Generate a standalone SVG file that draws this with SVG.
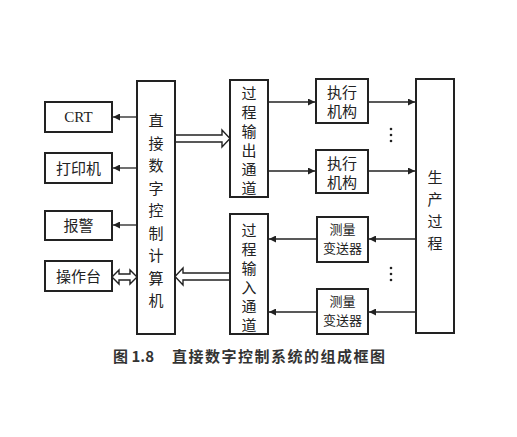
<svg xmlns="http://www.w3.org/2000/svg" width="517" height="437" viewBox="0 0 517 437">
<style>
.box{fill:#fff;stroke:#222;stroke-width:2}
.t{font-family:"Noto Sans CJK SC","Noto Sans",sans-serif;font-size:15px;fill:#222;text-anchor:middle}
.s{font-size:13px}
.cap{font-family:"Noto Sans CJK SC","Noto Sans",sans-serif;font-size:15px;font-weight:bold;fill:#333}
.ln{stroke:#222;stroke-width:1.3;fill:none}
.hol{fill:#fff;stroke:#222;stroke-width:1.4;stroke-linejoin:miter}
.dot{fill:#222}
</style>
<defs>
<marker id="ah" viewBox="0 0 10 10" refX="10" refY="5" markerWidth="9" markerHeight="7" markerUnits="userSpaceOnUse" orient="auto">
<path d="M0,0 L10,5 L0,10 z" fill="#222"/>
</marker>
</defs>
<rect width="517" height="437" fill="#fff"/>
<g id="connectors">
<line class="ln" x1="137" y1="117" x2="113" y2="117" marker-end="url(#ah)"/>
<line class="ln" x1="137" y1="168" x2="113" y2="168" marker-end="url(#ah)"/>
<line class="ln" x1="137" y1="225" x2="113" y2="225" marker-end="url(#ah)"/>
<polygon class="hol" points="112,277 119,270 119,274 130,274 130,270 137,277 130,284 130,280 119,280 119,284"/>
<polygon class="hol" points="175,135 222,135 222,130 230,138.5 222,147 222,142 175,142"/>
<polygon class="hol" points="230,273 183,273 183,268 175,276.5 183,285 183,280 230,280"/>
<line class="ln" x1="268" y1="102" x2="315" y2="102" marker-end="url(#ah)"/>
<line class="ln" x1="268" y1="171" x2="315" y2="171" marker-end="url(#ah)"/>
<line class="ln" x1="368" y1="102" x2="415" y2="102" marker-end="url(#ah)"/>
<line class="ln" x1="368" y1="171" x2="415" y2="171" marker-end="url(#ah)"/>
<line class="ln" x1="416" y1="239" x2="369" y2="239" marker-end="url(#ah)"/>
<line class="ln" x1="416" y1="312" x2="369" y2="312" marker-end="url(#ah)"/>
<line class="ln" x1="317" y1="239" x2="269" y2="239" marker-end="url(#ah)"/>
<line class="ln" x1="317" y1="312" x2="269" y2="312" marker-end="url(#ah)"/>
<circle class="dot" cx="391" cy="129" r="1.3"/><circle class="dot" cx="391" cy="135" r="1.3"/><circle class="dot" cx="391" cy="141" r="1.3"/>
<circle class="dot" cx="391" cy="268" r="1.3"/><circle class="dot" cx="391" cy="274" r="1.3"/><circle class="dot" cx="391" cy="280" r="1.3"/>
</g>
<g id="crt"><rect class="box" x="45" y="102" width="67" height="30"/><text class="t" x="78.5" y="122" style="font-family:'Liberation Serif',serif;font-size:15px">CRT</text></g>
<g id="printer"><rect class="box" x="45" y="153" width="67" height="30"/><text class="t" x="78.5" y="173.5">打印机</text></g>
<g id="alarm"><rect class="box" x="45" y="211" width="67" height="29"/><text class="t" x="78.5" y="230.5">报警</text></g>
<g id="console"><rect class="box" x="45" y="261" width="67" height="30"/><text class="t" x="78.5" y="281.5">操作台</text></g>
<g id="ddc"><rect class="box" x="137" y="81" width="38" height="253"/>
<text class="t" x="156" y="126">直</text><text class="t" x="156" y="148.5">接</text><text class="t" x="156" y="171">数</text><text class="t" x="156" y="193.5">字</text><text class="t" x="156" y="216">控</text><text class="t" x="156" y="238.5">制</text><text class="t" x="156" y="261">计</text><text class="t" x="156" y="283.5">算</text><text class="t" x="156" y="306">机</text></g>
<g id="out"><rect class="box" x="230" y="80" width="38" height="117"/>
<text class="t" x="249" y="99">过</text><text class="t" x="249" y="118">程</text><text class="t" x="249" y="137">输</text><text class="t" x="249" y="156">出</text><text class="t" x="249" y="175">通</text><text class="t" x="249" y="194">道</text></g>
<g id="in"><rect class="box" x="230" y="214" width="38" height="120"/>
<text class="t" x="249" y="235.5">过</text><text class="t" x="249" y="254.5">程</text><text class="t" x="249" y="273.5">输</text><text class="t" x="249" y="292.5">入</text><text class="t" x="249" y="311.5">通</text><text class="t" x="249" y="330.5">道</text></g>
<g id="act1"><rect class="box" x="316" y="79" width="52" height="44"/><text class="t" x="342" y="98">执行</text><text class="t" x="342" y="117">机构</text></g>
<g id="act2"><rect class="box" x="316" y="150" width="52" height="43"/><text class="t" x="342" y="169">执行</text><text class="t" x="342" y="188">机构</text></g>
<g id="sen1"><rect class="box" x="317" y="217" width="51" height="45"/><text class="t s" x="342.5" y="234">测量</text><text class="t s" x="342.5" y="253">变送器</text></g>
<g id="sen2"><rect class="box" x="317" y="289" width="51" height="45"/><text class="t s" x="342.5" y="306">测量</text><text class="t s" x="342.5" y="325">变送器</text></g>
<g id="proc"><rect class="box" x="416" y="79" width="38" height="254"/>
<text class="t" x="435" y="183">生</text><text class="t" x="435" y="205">产</text><text class="t" x="435" y="227">过</text><text class="t" x="435" y="249">程</text></g>
<g id="caption">
<text class="cap" x="113" y="362">图 1.8</text>
<text class="cap" x="172" y="362" style="letter-spacing:1.5px">直接数字控制系统的组成框图</text>
</g>
</svg>
